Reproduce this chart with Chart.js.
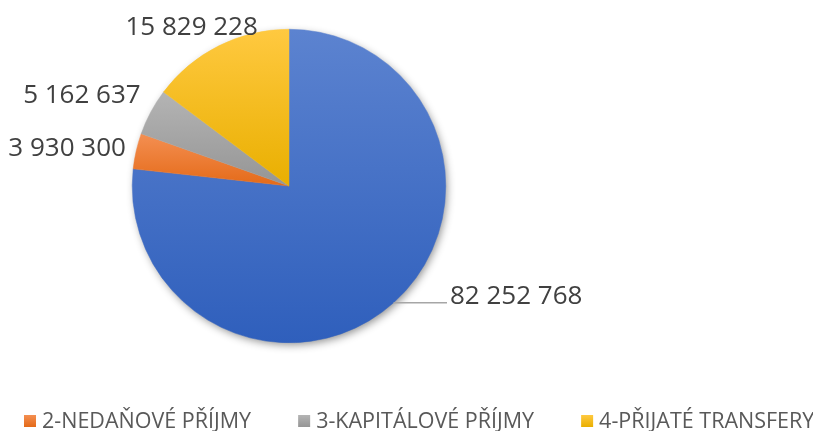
<!DOCTYPE html>
<html><head><meta charset="utf-8">
<script src="https://cdn.jsdelivr.net/npm/chart.js@4.4.1/dist/chart.umd.min.js"></script>
<style>html,body{margin:0;padding:0;background:#fff;overflow:hidden}#wrap{width:813px;height:431px;position:relative}</style>
</head><body><div id="wrap"><canvas id="c"></canvas></div>
<script>
const categories = ["1-DAŇOVÉ PŘÍJMY", "2-NEDAŇOVÉ PŘÍJMY", "3-KAPITÁLOVÉ PŘÍJMY", "4-PŘIJATÉ TRANSFERY"];
const values = [82252768, 3930300, 5162637, 15829228];
const colorsTop = ["#5c83d0", "#f48f52", "#b4b4b4", "#ffc940"];
const colorsBottom = ["#2f5fbc", "#e46a18", "#959595", "#e9af00"];

const fmt = v => v.toLocaleString('en-US').replace(/,/g, ' ');

const areaPlugin = {
  id: 'pieArea',
  afterLayout(chart) {
    const a = chart.chartArea;
    a.left = 132; a.right = 446; a.top = 29; a.bottom = 343;
    a.width = a.right - a.left; a.height = a.bottom - a.top;
  }
};

const shadeAndShadow = {
  id: 'shadeAndShadow',
  beforeDatasetsDraw(chart) {
    const meta = chart.getDatasetMeta(0);
    const ctx = chart.ctx;
    const a0 = meta.data[0];
    ctx.save();
    ctx.beginPath();
    ctx.arc(a0.x, a0.y, a0.outerRadius - 1, 0, Math.PI * 2);
    ctx.fillStyle = '#ffffff';
    ctx.shadowColor = 'rgba(0,0,0,0.45)';
    ctx.shadowBlur = 9;
    ctx.shadowOffsetX = 2;
    ctx.shadowOffsetY = 3;
    ctx.fill();
    ctx.restore();
    meta.data.forEach((arc, i) => {
      const {x, y, startAngle, endAngle, outerRadius} = arc;
      const ys = [y, y + Math.sin(startAngle) * outerRadius, y + Math.sin(endAngle) * outerRadius];
      for (let k = -4; k <= 8; k++) {
        const ang = k * Math.PI / 2;
        if (ang > startAngle && ang < endAngle) ys.push(y + Math.sin(ang) * outerRadius);
      }
      const y0 = Math.min(...ys), y1 = Math.max(...ys);
      const g = ctx.createLinearGradient(0, y0, 0, y1);
      g.addColorStop(0, colorsTop[i]);
      g.addColorStop(1, colorsBottom[i]);
      arc.options = Object.assign({}, arc.options, {backgroundColor: g, borderColor: g});
    });
  }
};

const labelPlugin = {
  id: 'valueLabels',
  afterDatasetsDraw(chart, args, opts) {
    const meta = chart.getDatasetMeta(0);
    const ctx = chart.ctx;
    ctx.save();
    ctx.font = '26px "Open Sans"';
    ctx.fillStyle = '#404040';
    ctx.textBaseline = 'alphabetic';
    meta.data.forEach((arc, i) => {
      const {x, y, startAngle, endAngle, outerRadius} = arc;
      const mid = (startAngle + endAngle) / 2;
      const c = Math.cos(mid), s = Math.sin(mid);
      const txt = fmt(values[i]);
      const w = ctx.measureText(txt).width;
      if (i === 0) {
        const px = x + c * outerRadius, py = y + s * outerRadius;
        ctx.strokeStyle = '#a6a6a6';
        ctx.lineWidth = 1.3;
        ctx.beginPath();
        ctx.moveTo(px, py);
        ctx.lineTo(447, py);
        ctx.stroke();
        ctx.textAlign = 'left';
        ctx.fillText(txt, 450, py + 1);
      } else {
        const r = outerRadius + 8;
        const px = x + c * r, py = y + s * r;
        const n = opts.nudge[i];
        const cx = px + c * w / 2 + n[0];
        const cy = py + s * 9 + n[1];
        ctx.textAlign = 'center';
        ctx.fillText(txt, cx, cy + 9);
      }
    });
    ctx.restore();
  }
};

const legendPlugin = {
  id: 'bottomLegend',
  afterDraw(chart, args, opts) {
    const ctx = chart.ctx;
    ctx.save();
    ctx.font = opts.size + 'px "Open Sans"';
    ctx.textBaseline = 'alphabetic';
    ctx.textAlign = 'left';
    let xPos = opts.start;
    categories.forEach((name, i) => {
      if (i === 0) return;
      const g = ctx.createLinearGradient(0, opts.boxTop, 0, opts.boxTop + 12);
      g.addColorStop(0, colorsTop[i]);
      g.addColorStop(1, colorsBottom[i]);
      ctx.fillStyle = g;
      ctx.fillRect(xPos, opts.boxTop, 12, 12);
      ctx.fillStyle = '#595959';
      ctx.fillText(name, xPos + 18, opts.baseline);
      xPos += 18 + ctx.measureText(name).width + opts.gap;
    });
    ctx.restore();
  }
};

new Chart(document.getElementById('c'), {
  type: 'pie',
  data: {
    labels: categories,
    datasets: [{
      data: values,
      backgroundColor: colorsTop,
      borderWidth: 0.5,
      borderColor: colorsTop
    }]
  },
  options: {
    responsive: true,
    maintainAspectRatio: false,
    animation: false,
    events: [],
    plugins: {
      legend: {display: false},
      tooltip: {enabled: false},
      valueLabels: {nudge: [[0, 0], [-4, 0], [-10, -10], [6, -5]]},
      bottomLegend: {start: 24, gap: 47, size: 21.5, boxTop: 415, baseline: 428}
    }
  },
  plugins: [areaPlugin, shadeAndShadow, labelPlugin, legendPlugin]
});
</script>
</body></html>
